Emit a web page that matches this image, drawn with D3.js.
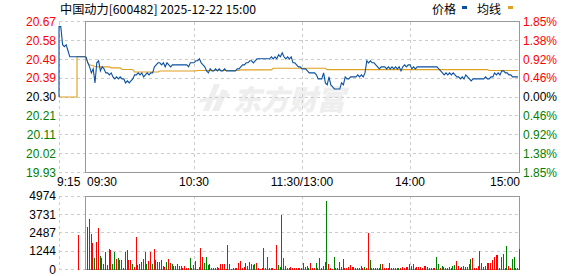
<!DOCTYPE html>
<html>
<head>
<meta charset="UTF-8">
<title>中国动力 分时</title>
<script src="https://d3js.org/d3.v7.min.js"></script>
<style>
    body { margin: 0; background: #fff; }
    svg { display: block; font-family: "Liberation Sans", Arial, sans-serif; font-size: 12px; }
    .grid { stroke: #ccc; stroke-dasharray: 3,3; fill: none; shape-rendering: crispEdges; }
    .frame { stroke: #999; fill: none; shape-rendering: crispEdges; }
    .cn { font-family: "Noto Sans CJK SC", sans-serif; }
    .vbar, .pbar { shape-rendering: crispEdges; }
</style>
</head>
<body>
<script>

var prevClose = 20.30;
var pctMax = 1.85;
var volMax = 4974;

var priceLabels = ["20.67", "20.58", "20.49", "20.39", "20.30", "20.21", "20.11", "20.02", "19.93"];
var pctLabels = ["1.85%", "1.38%", "0.92%", "0.46%", "0.00%", "0.46%", "0.92%", "1.38%", "1.85%"];
var volLabels = ["4974", "3731", "2487", "1244", "0"];
var timeTicks = [0, 60, 120, 180, 240];
var timeLabels = ["09:30", "10:30", "11:30/13:00", "14:00", "15:00"];

// call auction 9:15 - 9:30, one value a minute
var prePrice = [20.65, 20.65, 20.56, 20.55, 20.56, 20.53, 20.50, 20.50,
    20.50, 20.50, 20.50, 20.50, 20.50, 20.50, 20.50, 20.50];
var preAvg = [20.30, 20.30, 20.30, 20.30, 20.30, 20.30, 20.30, 20.30,
    20.30, 20.30, 20.50, 20.50, 20.50, 20.50, 20.50, 20.50];
var preVolume = [0, 0, 0, 0, 0, 0, 0, 0, 0, 0, 2337, 0, 0, 0, 0, 0];

// 9:30 - 11:30, 13:00 - 15:00
var price = [
    20.50, 20.47, 20.45, 20.42, 20.44, 20.37, 20.47, 20.48, 20.43, 20.45,
    20.44, 20.42, 20.42, 20.41, 20.42, 20.40, 20.39, 20.40, 20.39, 20.40,
    20.39, 20.39, 20.37, 20.38, 20.37, 20.38, 20.39, 20.41, 20.41, 20.42,
    20.41, 20.42, 20.40, 20.41, 20.42, 20.41, 20.42, 20.42, 20.45, 20.46,
    20.47, 20.47, 20.46, 20.47, 20.45, 20.47, 20.46, 20.45, 20.46, 20.46,
    20.46, 20.46, 20.46, 20.46, 20.46, 20.46, 20.46, 20.45, 20.47, 20.47,
    20.47, 20.48, 20.48, 20.49, 20.47, 20.46, 20.45, 20.43, 20.42, 20.44,
    20.43, 20.43, 20.44, 20.43, 20.44, 20.43, 20.43, 20.44, 20.43, 20.43,
    20.43, 20.43, 20.43, 20.43, 20.44, 20.44, 20.45, 20.46, 20.46, 20.47,
    20.47, 20.48, 20.48, 20.47, 20.48, 20.49, 20.49, 20.49, 20.49, 20.49,
    20.49, 20.49, 20.49, 20.50, 20.49, 20.50, 20.49, 20.51, 20.50, 20.52,
    20.50, 20.49, 20.50, 20.49, 20.50, 20.47, 20.47, 20.46, 20.45, 20.45,
    20.44, 20.44, 20.44, 20.43, 20.42, 20.42, 20.42, 20.42, 20.41, 20.39,
    20.39, 20.39, 20.42, 20.37, 20.36, 20.40, 20.36, 20.35, 20.34, 20.34,
    20.34, 20.34, 20.37, 20.36, 20.40, 20.39, 20.39, 20.40, 20.40, 20.40,
    20.40, 20.41, 20.40, 20.41, 20.40, 20.42, 20.48, 20.47, 20.48, 20.47,
    20.47, 20.46, 20.45, 20.44, 20.45, 20.45, 20.45, 20.44, 20.45, 20.44,
    20.45, 20.44, 20.45, 20.44, 20.45, 20.43, 20.45, 20.46, 20.45, 20.46,
    20.46, 20.44, 20.45, 20.44, 20.45, 20.45, 20.45, 20.45, 20.45, 20.45,
    20.45, 20.45, 20.45, 20.45, 20.45, 20.45, 20.44, 20.43, 20.42, 20.41,
    20.42, 20.41, 20.42, 20.41, 20.42, 20.41, 20.40, 20.40, 20.39, 20.40,
    20.39, 20.41, 20.40, 20.39, 20.38, 20.39, 20.39, 20.39, 20.39, 20.39,
    20.39, 20.39, 20.40, 20.39, 20.39, 20.40, 20.40, 20.42, 20.41, 20.42,
    20.41, 20.43, 20.43, 20.42, 20.42, 20.41, 20.41, 20.40, 20.40, 20.40, 20.40
];

var avgPrice = [
    20.500, 20.470, 20.460, 20.458, 20.455, 20.452, 20.450, 20.450, 20.450, 20.450,
    20.450, 20.450, 20.450, 20.450, 20.445, 20.445, 20.445, 20.445, 20.445, 20.445,
    20.437, 20.437, 20.437, 20.437, 20.437, 20.437, 20.437, 20.424, 20.424, 20.424,
    20.424, 20.424, 20.424, 20.424, 20.424, 20.424, 20.424, 20.424, 20.424, 20.424,
    20.424, 20.429, 20.429, 20.429, 20.429, 20.429, 20.429, 20.429, 20.429, 20.429,
    20.429, 20.429, 20.429, 20.429, 20.429, 20.429, 20.429, 20.429, 20.429, 20.429,
    20.429, 20.429, 20.432, 20.432, 20.432, 20.432, 20.432, 20.432, 20.432, 20.432,
    20.432, 20.432, 20.432, 20.432, 20.432, 20.432, 20.432, 20.432, 20.432, 20.432,
    20.432, 20.432, 20.432, 20.432, 20.432, 20.432, 20.435, 20.435, 20.435, 20.435,
    20.435, 20.435, 20.435, 20.435, 20.435, 20.435, 20.435, 20.435, 20.435, 20.435,
    20.435, 20.435, 20.435, 20.435, 20.443, 20.443, 20.443, 20.443, 20.443, 20.443,
    20.443, 20.443, 20.443, 20.443, 20.443, 20.443, 20.443, 20.443, 20.443, 20.443,
    20.443, 20.443, 20.443, 20.443, 20.443, 20.443, 20.443, 20.443, 20.443, 20.443,
    20.443, 20.443, 20.443, 20.443, 20.436, 20.436, 20.436, 20.436, 20.436, 20.436,
    20.436, 20.436, 20.436, 20.436, 20.436, 20.436, 20.436, 20.436, 20.436, 20.436,
    20.436, 20.436, 20.436, 20.436, 20.436, 20.436, 20.436, 20.436, 20.436, 20.436,
    20.436, 20.436, 20.436, 20.436, 20.436, 20.436, 20.436, 20.436, 20.436, 20.436,
    20.436, 20.436, 20.436, 20.436, 20.436, 20.436, 20.436, 20.436, 20.436, 20.436,
    20.436, 20.436, 20.436, 20.436, 20.436, 20.436, 20.436, 20.436, 20.436, 20.436,
    20.436, 20.436, 20.436, 20.436, 20.436, 20.436, 20.436, 20.436, 20.436, 20.436,
    20.436, 20.436, 20.436, 20.436, 20.436, 20.436, 20.436, 20.436, 20.436, 20.436,
    20.436, 20.436, 20.436, 20.436, 20.436, 20.436, 20.436, 20.436, 20.436, 20.436,
    20.436, 20.436, 20.436, 20.436, 20.432, 20.432, 20.432, 20.432, 20.432, 20.432,
    20.432, 20.432, 20.432, 20.432, 20.432, 20.432, 20.432, 20.432, 20.432, 20.432, 20.432
];

var volume = [
    2883, 3405, 2384, 1771, 749, 1861, 2815, 908, 749, 340,
    1180, 272, 1362, 1317, 340, 1180, 681, 795, 636, 636,
    90, 1180, 1317, 636, 636, 340, 159, 2202, 272, 340,
    499, 726, 1180, 340, 568, 1180, 340, 1407, 613, 499,
    499, 636, 227, 182, 499, 681, 454, 340, 227, 227,
    363, 227, 227, 113, 227, 113, 70, 795, 68, 272,
    568, 45, 159, 1476, 863, 454, 863, 295, 340, 68,
    68, 68, 136, 68, 340, 340, 340, 60, 1634, 340,
    45, 68, 68, 68, 409, 568, 68, 159, 409, 227,
    499, 340, 272, 386, 409, 68, 60, 80, 1430, 68,
    840, 68, 68, 113, 60, 1634, 272, 159, 3677, 749,
    227, 113, 68, 159, 68, 68, 68, 68, 68, 113,
    409, 159, 227, 80, 409, 68, 68, 454, 90, 795,
    68, 227, 522, 4631, 340, 68, 60, 817, 113, 113,
    499, 182, 681, 113, 68, 182, 272, 182, 159, 68,
    113, 68, 227, 68, 182, 68, 2452, 613, 68, 90,
    68, 113, 68, 340, 340, 68, 68, 68, 409, 90,
    68, 68, 68, 68, 90, 182, 90, 182, 182, 340,
    227, 340, 68, 182, 182, 159, 90, 250, 227, 182,
    113, 113, 68, 113, 817, 340, 68, 227, 159, 113,
    113, 159, 90, 227, 295, 568, 227, 68, 159, 227,
    182, 182, 340, 726, 749, 68, 68, 227, 1248, 409,
    159, 227, 409, 409, 409, 636, 840, 953, 953, 68,
    863, 1022, 68, 1589, 227, 68, 726, 863, 68, 68, 1362
];

// R = up minute, G = down minute
var volDir = (
    "GRGRGRRGGR" + "GGGRGGRGRR" + "RRGRRGRRGR" + "GRRGRRGRRR" + "RGGRGRRGGR" +
    "RRRRRRRGRR" + "RGRRRGGGGR" + "RGGRRRRRRG" + "RRRRRRRRGR" + "RRRGRRRRRR" +
    "RRRRRRGGRR" + "RRRRRRRRGG" + "RRRGRRRGRG" + "RRRGRRRGRR" + "RRRRRRRRRG" +
    "RRRRGRRGRR" + "RRGGRRRRRR" + "RRRGRRRRGG" + "GRRRRRRRRR" + "RRRRGGRGGR" +
    "RRRGGRRRGR" + "GRGGRRRRRR" + "GGRRRRRRRR" + "GRRGRRGGRRR"
).split("");

var blue = "#0a50a0", gold = "#e0a020", red = "#ff0000", green = "#008000";

var svg = d3.select("body").append("svg")
        .attr("width", 578)
        .attr("height", 276);

var x = d3.scaleLinear().domain([0, 240]).range([86, 518]);
var xPre = d3.scaleLinear().domain([0, 15]).range([59, 86]);
var y = d3.scaleLinear()
        .domain([prevClose * (1 - pctMax / 100), prevClose * (1 + pctMax / 100)])
        .range([172.5, 21.5]);
var yVol = d3.scaleLinear().domain([0, volMax]).range([269.5, 196]);

var d0 = y.domain()[0], d1 = y.domain()[1];
var priceLevels = d3.range(9).map(function (i) { return d1 - i * (d1 - d0) / 8; });
var volLevels = d3.range(5).map(function (i) { return volMax - i * volMax / 4; });

function crisp(v) { return Math.floor(v) + 0.5; }

// watermark
var wm = svg.append("g").attr("fill", "#eeeeee");
wm.append("path").attr("d", "M203,111 L214,84 L220,84 L209,111 Z M212,111 L222,89 L228,91 L219,111 Z M200,99 L230,93 L229,97 L199,103 Z");
wm.append("text").attr("class", "cn")
        .attr("x", 233).attr("y", 110)
        .style("font-size", "28px").style("font-weight", "900").style("font-style", "italic")
        .text("东方财富");

// grid
var grid = svg.append("g").attr("class", "grid");
priceLevels.forEach(function (p) {
    grid.append("line").attr("x1", 59).attr("x2", 519).attr("y1", crisp(y(p))).attr("y2", crisp(y(p)));
});
volLevels.forEach(function (v) {
    grid.append("line").attr("x1", 59).attr("x2", 519).attr("y1", crisp(yVol(v))).attr("y2", crisp(yVol(v)));
});
[[y.range()[1], y.range()[0]], [yVol.range()[1], yVol.range()[0]]].forEach(function (r) {
    grid.append("line").attr("x1", 59.5).attr("x2", 59.5).attr("y1", r[0]).attr("y2", r[1]);
    timeTicks.slice(1, 4).forEach(function (t) {
        grid.append("line").attr("x1", crisp(x(t))).attr("x2", crisp(x(t))).attr("y1", r[0]).attr("y2", r[1]);
    });
});

// frames
svg.append("rect").attr("class", "frame")
        .attr("x", 85.5).attr("y", crisp(y.range()[1]))
        .attr("width", 434).attr("height", crisp(y.range()[0]) - crisp(y.range()[1]));
svg.append("rect").attr("class", "frame")
        .attr("x", 85.5).attr("y", crisp(yVol.range()[1]))
        .attr("width", 434).attr("height", crisp(yVol.range()[0]) - crisp(yVol.range()[1]));

// price axes
var leftAxis = svg.append("g")
        .attr("transform", "translate(59,0)")
        .call(d3.axisLeft(y).tickValues(priceLevels).tickSize(0).tickPadding(3)
                .tickFormat(function (d, i) { return priceLabels[i]; }));
var rightAxis = svg.append("g")
        .attr("transform", "translate(519,0)")
        .call(d3.axisRight(y).tickValues(priceLevels).tickSize(0).tickPadding(4)
                .tickFormat(function (d, i) { return pctLabels[i]; }));
var volAxis = svg.append("g")
        .attr("transform", "translate(59,0)")
        .call(d3.axisLeft(yVol).tickValues(volLevels).tickSize(0).tickPadding(3)
                .tickFormat(function (d, i) { return volLabels[i]; }));

[leftAxis, rightAxis, volAxis].forEach(function (g) {
    g.select(".domain").remove();
    g.selectAll("text")
            .style("font", "12px 'Liberation Sans', Arial, sans-serif");
});
[leftAxis, rightAxis].forEach(function (g) {
    g.selectAll("text").attr("fill", function (d, i) {
        return i < 4 ? red : (i === 4 ? "#000" : green);
    });
});
volAxis.selectAll("text").attr("fill", "#000");

// time labels
svg.append("text").attr("x", xPre(0) - 2).attr("y", 186).text("9:15");
svg.selectAll(".tlab")
        .data(timeTicks)
        .enter().append("text")
        .attr("class", "tlab")
        .attr("x", function (d, i) { return i === 0 ? x(d) + 1 : (i === 4 ? x(d) + 2 : x(d)); })
        .attr("y", 186)
        .attr("text-anchor", function (d, i) { return i === 0 ? "start" : (i === 4 ? "end" : "middle"); })
        .text(function (d, i) { return timeLabels[i]; });

// title and legend
svg.append("text").attr("class", "cn")
        .attr("x", 60).attr("y", 14)
        .attr("textLength", 196).attr("lengthAdjust", "spacingAndGlyphs")
        .text("中国动力[600482] 2025-12-22 15:00");
svg.append("text").attr("class", "cn").attr("x", 432).attr("y", 14).text("价格");
svg.append("rect").attr("x", 462).attr("y", 6).attr("width", 5).attr("height", 3).attr("fill", blue);
svg.append("text").attr("class", "cn").attr("x", 477).attr("y", 14).text("均线");
svg.append("rect").attr("x", 508).attr("y", 6).attr("width", 5).attr("height", 3).attr("fill", gold);

// volume bars
svg.selectAll(".vbar")
        .data(volume)
        .enter().append("rect")
        .attr("class", "vbar")
        .attr("x", function (d, i) { return Math.round(x(i)) + 1; })
        .attr("width", 1)
        .attr("y", function (d) { return Math.round(yVol(d)); })
        .attr("height", function (d) { return Math.round(yVol(0)) - Math.round(yVol(d)); })
        .attr("fill", function (d, i) { return volDir[i] === "R" ? red : green; });
svg.selectAll(".pbar")
        .data(preVolume)
        .enter().append("rect")
        .attr("class", "pbar")
        .attr("x", function (d, i) { return Math.round(xPre(i)) + 1; })
        .attr("width", 1)
        .attr("y", function (d) { return Math.round(yVol(d)); })
        .attr("height", function (d) { return Math.round(yVol(0)) - Math.round(yVol(d)); })
        .attr("fill", red);

// lines
var preLine = d3.line()
        .x(function (d) { return xPre(d[0]); })
        .y(function (d) { return y(d[1]); });
var preAvgLine = d3.line()
        .curve(d3.curveStepAfter)
        .x(function (d, i) { return xPre(i); })
        .y(function (d) { return y(d); });
var mainLine = d3.line()
        .x(function (d, i) { return x(i); })
        .y(function (d) { return y(d); });

svg.append("path")
        .attr("d", preAvgLine(preAvg))
        .attr("fill", "none").attr("stroke", gold).attr("stroke-width", 1.1);
svg.append("path")
        .attr("d", mainLine(avgPrice))
        .attr("fill", "none").attr("stroke", gold).attr("stroke-width", 1.1);
svg.append("path")
        .attr("d", preLine([[0, prevClose]].concat(prePrice.map(function (p, i) { return [i, p]; }))))
        .attr("fill", "none").attr("stroke", blue).attr("stroke-width", 1.1);
svg.append("path")
        .attr("d", mainLine(price))
        .attr("fill", "none").attr("stroke", blue).attr("stroke-width", 1.1);

</script>
</body>
</html>
